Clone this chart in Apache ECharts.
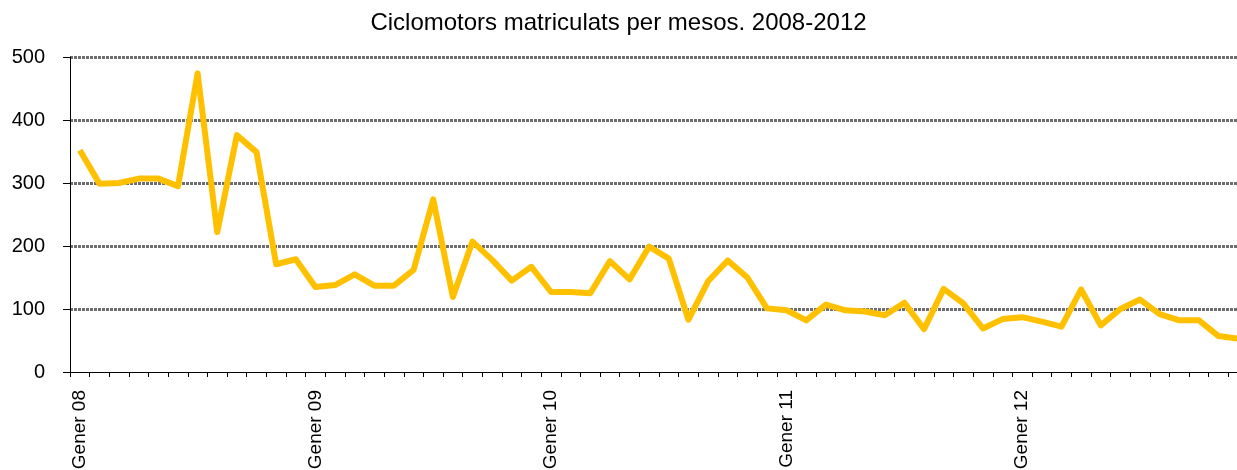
<!DOCTYPE html>
<html>
<head>
<meta charset="utf-8">
<script src="https://cdn.jsdelivr.net/npm/echarts@6/dist/echarts.min.js"></script>
<style>
    html, body { margin: 0; padding: 0; background: #fff; }
    #chart { width: 1237px; height: 470px; }
</style>
</head>
<body>
<div id="chart"></div>
<script>
    // mesos i anys (etiquetes de l'eix X)
    const mesos = ['Gener', 'Febrer', 'Març', 'Abril', 'Maig', 'Juny', 'Juliol', 'Agost', 'Setembre', 'Octubre', 'Novembre', 'Desembre'];
    const anys = ['08', '09', '10', '11', '12'];
    const yTicks = [0, 100, 200, 300, 400, 500];

    // ciclomotors matriculats per mes, 2008-2012
    const valors2008 = [352, 299, 300, 307, 307, 295, 474, 222, 376, 349, 171, 179];
    const valors2009 = [135, 138, 155, 137, 137, 162, 274, 119, 207, 178, 145, 167];
    const valors2010 = [127, 127, 125, 176, 147, 199, 180, 83, 144, 177, 150, 101];
    const valors2011 = [98, 82, 107, 98, 96, 90, 110, 68, 132, 109, 69, 84];
    const valors2012 = [87, 80, 72, 131, 74, 100, 115, 92, 82, 82, 57, 53];

    const categories = [];
    anys.forEach(a => mesos.forEach(m => categories.push(m + ' ' + a)));
    const valors = [].concat(valors2008, valors2009, valors2010, valors2011, valors2012);

    const font = 'Liberation Sans, Arial, sans-serif';

    let myChart = echarts.init(document.getElementById('chart'));
    myChart.setOption({
        animation: false,
        title: {
            text: 'Ciclomotors matriculats per mesos. 2008-2012',
            left: 'center',
            top: 6,
            textStyle: {fontFamily: font, fontSize: 24, fontWeight: 'normal', color: '#000'}
        },
        // la graella surt una mica per la dreta, com a l'original
        grid: {left: 70, width: 1178, top: 57, bottom: 98, containLabel: false, outerBoundsMode: 'none'},
        xAxis: {
            type: 'category',
            data: categories,
            boundaryGap: true,
            axisLine: {lineStyle: {color: '#000', width: 1}},
            axisTick: {show: true, interval: 0, length: 5, lineStyle: {color: '#000'}},
            axisLabel: {
                interval: 11,
                rotate: 90,
                margin: 18,
                fontFamily: font,
                fontSize: 19,
                color: '#000'
            },
            splitLine: {show: false}
        },
        yAxis: {
            type: 'value',
            min: yTicks[0],
            max: yTicks[yTicks.length - 1],
            interval: 100,
            axisLine: {show: true, lineStyle: {color: '#000', width: 1}},
            axisTick: {show: true, length: 7, lineStyle: {color: '#000'}},
            axisLabel: {fontFamily: font, fontSize: 20, color: '#000', margin: 25},
            splitLine: {showMinLine: false, lineStyle: {color: '#6e6e6e', width: 3, type: [3, 1]}}
        },
        series: [{
            type: 'line',
            data: valors,
            symbol: 'none',
            lineStyle: {color: '#FFC000', width: 6, join: 'round'},
            itemStyle: {color: '#FFC000'}
        }]
    });
</script>
</body>
</html>
